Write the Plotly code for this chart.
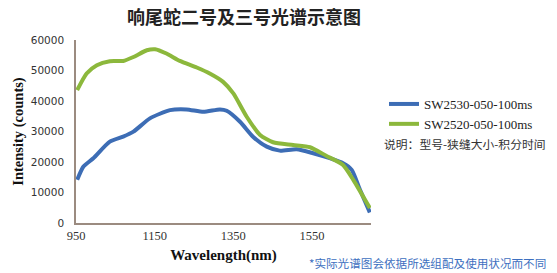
import plotly.graph_objects as go

wl_blue = [953, 969, 994, 1036, 1070, 1096, 1138, 1189, 1231, 1274, 1316, 1333, 1367, 1400, 1435, 1468, 1511, 1553, 1595, 1629, 1651, 1672, 1697]
val_blue = [14150, 18500, 21240, 26670, 28300, 29940, 34300, 37000, 37250, 36470, 37250, 36800, 33200, 28300, 25030, 23730, 24180, 22870, 21240, 19600, 17420, 10880, 3470]

wl_green = [953, 977, 1003, 1036, 1070, 1096, 1130, 1151, 1180, 1214, 1257, 1290, 1324, 1350, 1384, 1418, 1451, 1502, 1545, 1587, 1629, 1655, 1697]
val_green = [43560, 49000, 51730, 53040, 53140, 54440, 56630, 56960, 55560, 53140, 50980, 49020, 46270, 42480, 34840, 28860, 26470, 25590, 24840, 21990, 19050, 14150, 4900]

x_ticks = [950, 1150, 1350, 1550]
y_ticks = [0, 10000, 20000, 30000, 40000, 50000, 60000]

name_blue = "SW2530-050-100ms"
name_green = "SW2520-050-100ms"
title_text = "响尾蛇二号及三号光谱示意图"
note_text = "说明：型号-狭缝大小-积分时间"
foot_text = "*实际光谱图会依据所选组配及使用状况而不同"

fig = go.Figure()
fig.add_trace(go.Scatter(x=wl_blue, y=val_blue, mode="lines", name=name_blue,
                         line=dict(color="#3d6db5", width=4, shape="spline", smoothing=0.6),
                         legendgroup="a"))
fig.add_trace(go.Scatter(x=wl_green, y=val_green, mode="lines", name=name_green,
                         line=dict(color="#8cb83c", width=4, shape="spline", smoothing=0.6),
                         legendgroup="b"))

axcol = "#9b8b80"
fig.update_layout(
    width=557, height=273,
    margin=dict(l=76, r=186, t=40, b=50),
    paper_bgcolor="white", plot_bgcolor="white",
    title=dict(text="<b>" + title_text + "</b>", x=244 / 557, xanchor="center", y=1 - 18 / 273, yanchor="middle",
               font=dict(family="Noto Sans CJK SC", size=18, color="#222222")),
    xaxis=dict(range=[950, 1700], tickvals=x_ticks, showgrid=False, zeroline=False,
               showline=True, linecolor=axcol, linewidth=1.5, ticks="",
               tickfont=dict(family="Liberation Serif", size=12.5, color="#333333"),
               title=dict(text="<b>Wavelength(nm)</b>", standoff=8,
                          font=dict(family="Liberation Serif", size=15, color="#111111"))),
    yaxis=dict(range=[0, 60000], tickvals=y_ticks, tickformat="d", showgrid=False, zeroline=False,
               showline=True, linecolor=axcol, linewidth=1.5, ticks="", ticklabelstandoff=8,
               tickfont=dict(family="DejaVu Sans", size=10.5, color="#333333"),
               title=dict(text="<b>Intensity (counts)</b>", standoff=4,
                          font=dict(family="Liberation Serif", size=14.5, color="#111111"))),
    legend=dict(x=(384 - 76) / 295, y=1 - (89 - 40) / 183, xanchor="left", yanchor="top",
                bgcolor="rgba(0,0,0,0)", font=dict(family="Liberation Serif", size=13, color="#222222"),
                itemwidth=30, tracegroupgap=0),
    showlegend=True,
)

fig.add_annotation(text=note_text, xref="paper", yref="paper",
                   x=(465 - 76) / 295, y=1 - (143 - 40) / 183, xanchor="center", yanchor="middle",
                   showarrow=False, font=dict(family="Noto Sans CJK SC", size=11.8, color="#333333"))
fig.add_annotation(text=foot_text, xref="paper", yref="paper",
                   x=(548 - 76) / 295, y=-(263 - 223) / 183, xanchor="right", yanchor="middle",
                   showarrow=False, font=dict(family="Noto Sans CJK SC", size=11.6, color="#3d6fc0"))

fig.write_html("out.html", post_script="document.body.style.margin='0';",
               config={"displayModeBar": False})
